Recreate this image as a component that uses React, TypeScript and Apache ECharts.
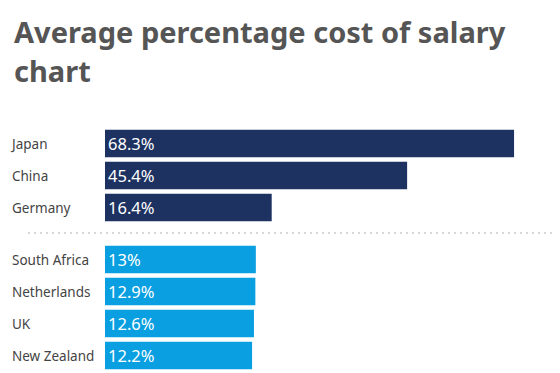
import React, { useEffect, useRef } from "react";
import * as echarts from "echarts";

const titleText = "Average percentage cost of salary\nchart";
const topCategories = ["Japan", "China", "Germany"];
const topValues = [68.3, 45.4, 16.4];
const bottomCategories = ["South Africa", "Netherlands", "UK", "New Zealand"];
const bottomValues = [13, 12.9, 12.6, 12.2];

const AXIS_MIN = -19.3;
const AXIS_MAX = 70;
const DARK = "#1e3261";
const BLUE = "#0a9fe1";
const FONT = "'Noto Sans', sans-serif";

function makeRender(color: string) {
  return (params: any, api: any) => {
    const cat = api.value(1);
    const v = api.value(0);
    const start = api.coord([AXIS_MIN, cat]);
    const end = api.coord([v, cat]);
    const h = api.size([0, 1])[1] * 0.86;
    return {
      type: "rect",
      shape: { x: start[0], y: start[1] - h / 2, width: end[0] - start[0], height: h },
      style: { fill: color },
      textContent: {
        style: { text: v + "%", fill: "#ffffff", fontSize: 16.5, fontFamily: FONT },
      },
      textConfig: { position: "insideLeft", distance: 3 },
    };
  };
}

export default function App() {
  const ref = useRef<HTMLDivElement>(null);
  useEffect(() => {
    document.body.style.margin = "0";
    const chart = echarts.init(ref.current!, null, { renderer: "svg" });
    const catAxis = (data: string[], gridIndex: number) => ({
      type: "category",
      data,
      gridIndex,
      inverse: true,
      axisLine: { show: false },
      axisTick: { show: false },
      axisLabel: {
        align: "left",
        margin: 93,
        color: "#444444",
        fontSize: 13.5,
        fontFamily: FONT,
      },
    });
    const valAxis = (gridIndex: number) => ({
      type: "value",
      gridIndex,
      min: AXIS_MIN,
      max: AXIS_MAX,
      show: false,
      splitLine: { show: false },
    });
    chart.setOption({
      animation: false,
      backgroundColor: "#ffffff",
      title: {
        text: titleText,
        left: 9,
        top: 7,
        textStyle: {
          fontFamily: FONT,
          fontSize: 29,
          fontWeight: "bold",
          color: "#555555",
          lineHeight: 39,
        },
      },
      grid: [
        { left: 105, width: 417, top: 127.5, height: 96 },
        { left: 105, width: 417, top: 243.5, height: 128 },
      ],
      xAxis: [valAxis(0), valAxis(1)],
      yAxis: [catAxis(topCategories, 0), catAxis(bottomCategories, 1)],
      graphic: [
        {
          type: "line",
          shape: { x1: 28, y1: 233, x2: 556, y2: 233 },
          style: { stroke: "#d8d8d8", lineWidth: 2, lineDash: [2, 4] },
        },
      ],
      series: [
        {
          type: "custom",
          xAxisIndex: 0,
          yAxisIndex: 0,
          encode: { x: 0, y: 1 },
          data: topValues.map((v, i) => [v, i]),
          renderItem: makeRender(DARK),
        },
        {
          type: "custom",
          xAxisIndex: 1,
          yAxisIndex: 1,
          encode: { x: 0, y: 1 },
          data: bottomValues.map((v, i) => [v, i]),
          renderItem: makeRender(BLUE),
        },
      ],
    });
    return () => chart.dispose();
  }, []);
  return <div ref={ref} style={{ width: 560, height: 373 }} />;
}
